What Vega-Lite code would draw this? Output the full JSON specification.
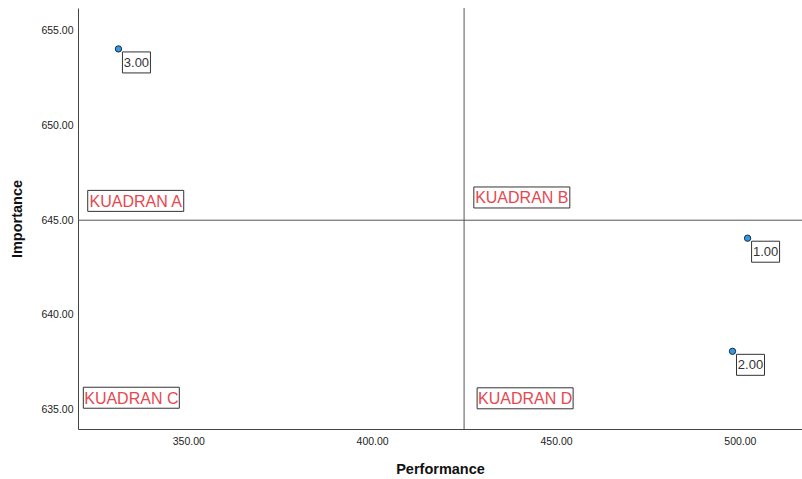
{
  "$schema": "https://vega.github.io/schema/vega-lite/v6.json",
  "width": 724,
  "height": 421,
  "autosize": "none",
  "padding": {"left": 78, "top": 8, "right": 0, "bottom": 50},
  "background": "white",
  "config": {
    "view": {"stroke": null},
    "font": "Liberation Sans",
    "axis": {
      "grid": false,
      "ticks": false,
      "domainColor": "#444",
      "domainWidth": 1,
      "labelFont": "Liberation Sans",
      "labelFontSize": 10.5,
      "labelColor": "#222",
      "titleFont": "Liberation Sans",
      "titleFontSize": 14.5,
      "titleFontWeight": "bold",
      "titleColor": "#111"
    }
  },
  "datasets": {
    "points": [
      {"performance": 502.1, "importance": 644.05, "label": "1.00"},
      {"performance": 498.0, "importance": 638.08, "label": "2.00"},
      {"performance": 331.0, "importance": 654.04, "label": "3.00"}
    ],
    "quadrants": [
      {"performance": 335.7, "importance": 646.02, "label": "KUADRAN A"},
      {"performance": 440.7, "importance": 646.2, "label": "KUADRAN B"},
      {"performance": 334.5, "importance": 635.63, "label": "KUADRAN C"},
      {"performance": 441.6, "importance": 635.6, "label": "KUADRAN D"}
    ],
    "vline": [{"performance": 425}],
    "hline": [{"importance": 645}]
  },
  "layer": [
    {
      "data": {"name": "vline"},
      "mark": {"type": "rule", "color": "#555", "strokeWidth": 1},
      "encoding": {
        "x": {"field": "performance", "type": "quantitative", "scale": {"domain": [320, 516.9], "nice": false, "zero": false},
          "axis": {"title": "Performance", "values": [350, 400, 450, 500], "format": ".2f", "labelPadding": 7, "titlePadding": 16}}
      }
    },
    {
      "data": {"name": "hline"},
      "mark": {"type": "rule", "color": "#555", "strokeWidth": 1},
      "encoding": {
        "y": {"field": "importance", "type": "quantitative", "scale": {"domain": [633.98, 656.2], "nice": false, "zero": false},
          "axis": {"title": "Importance", "values": [635, 640, 645, 650, 655], "format": ".2f", "labelPadding": 5, "titlePadding": 16}}
      }
    },
    {
      "data": {"name": "quadrants"},
      "mark": {"type": "point", "shape": "M-48,-10.5H48V10.5H-48Z", "size": 4, "filled": true, "fill": "white", "stroke": "#333", "strokeWidth": 1, "opacity": 1},
      "encoding": {
        "x": {"field": "performance", "type": "quantitative"},
        "y": {"field": "importance", "type": "quantitative"}
      }
    },
    {
      "data": {"name": "quadrants"},
      "mark": {"type": "text", "font": "Liberation Sans", "fontSize": 16, "color": "#e8474f", "align": "center", "baseline": "middle", "dy": 1},
      "encoding": {
        "x": {"field": "performance", "type": "quantitative"},
        "y": {"field": "importance", "type": "quantitative"},
        "text": {"field": "label"}
      }
    },
    {
      "data": {"name": "points"},
      "mark": {"type": "point", "shape": "M4,3H32V24H4Z", "size": 4, "filled": true, "fill": "white", "stroke": "#333", "strokeWidth": 1, "opacity": 1},
      "encoding": {
        "x": {"field": "performance", "type": "quantitative"},
        "y": {"field": "importance", "type": "quantitative"}
      }
    },
    {
      "data": {"name": "points"},
      "mark": {"type": "point", "shape": "circle", "size": 40, "filled": true, "fill": "#3399e6", "stroke": "#1a2a3a", "strokeWidth": 1, "opacity": 1},
      "encoding": {
        "x": {"field": "performance", "type": "quantitative"},
        "y": {"field": "importance", "type": "quantitative"}
      }
    },
    {
      "data": {"name": "points"},
      "mark": {"type": "text", "font": "Liberation Sans", "fontSize": 13, "color": "#333", "align": "center", "baseline": "middle", "dx": 18, "dy": 14},
      "encoding": {
        "x": {"field": "performance", "type": "quantitative"},
        "y": {"field": "importance", "type": "quantitative"},
        "text": {"field": "label"}
      }
    }
  ]
}
